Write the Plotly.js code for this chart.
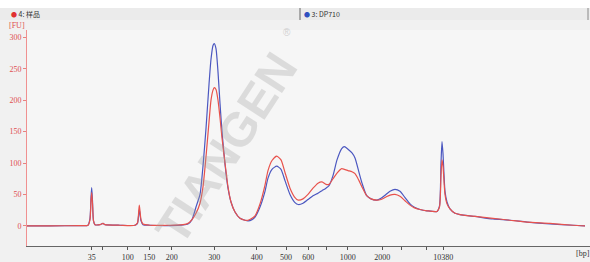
<!DOCTYPE html>
<html><head><meta charset="utf-8">
<script src="https://cdn.plot.ly/plotly-3.0.1.min.js"></script>
<style>html,body{margin:0;padding:0;background:#fff}#c{width:590px;height:262px}</style>
</head><body><div id="c"></div>
<script>
// migration time (arbitrary units) and fluorescence [FU]
const time = [2.7,5.0,8.0,8.8,9.0,9.1,9.17,9.25,9.35,9.5,10.0,10.3,10.5,12.0,13.5,13.75,13.93,14.1,14.3,15.0,17.0,18.3,18.8,19.2,19.6,20.0,20.3,20.6,20.9,21.1,21.3,21.43,21.6,21.8,22.0,22.2,22.5,22.8,23.1,23.5,24.0,24.5,24.8,25.2,25.5,26.0,26.5,26.8,27.2,27.67,28.1,28.5,29.0,29.5,29.83,30.3,30.8,31.3,31.8,32.2,32.6,32.9,33.3,33.7,34.17,34.43,34.8,35.2,35.5,35.9,36.2,36.67,37.1,37.67,38.1,38.6,39.0,39.5,40.0,40.5,41.0,41.4,42.0,42.7,43.7,43.95,44.1,44.2,44.3,44.5,44.7,45.0,45.5,46.0,47.5,49.3,51.0,52.7,55.0,57.3,58.5];
const sample = [0,0,0.5,1,10,40,53,35,8,2,2,4,2,1,1,5,33,10,3,1,1,2,4,10,20,36,62,110,165,200,216,220,217,200,172,140,100,62,38,22,12,9,9,12,16,35,65,88,104,111,105,85,60,45,41,43,50,60,68,70,66,66,75,84,91,90,88,86,83,72,62,48,43,41,42,46,49,50,47,40,33,29,26,24,23,30,80,105,95,50,35,27,20,18,15,12,9,6,4,1,0];
const dp710 = [0,0,0.5,1,12,45,61,40,8,2,2,4,2,1,1,4,26,8,2,1,0.5,1.5,3,10,30,50,95,155,225,265,287,290,282,245,195,150,98,60,38,22,12,9,8,10,14,30,55,76,90,95,90,72,50,37,34,36,42,48,52,56,60,64,80,105,123,126,122,116,108,85,68,48,43,41,44,50,55,58,55,45,35,30,26,24,23,32,100,134,115,55,38,27,20,18,15,11,9,6,3,1,0];
const tickPos = [9.17,10.23,12.77,14.93,17.17,21.43,25.67,28.6,30.83,32.67,34.77,38.23,40.1,42.67,44.33];
const tickText = ['35','','100','150','200','300','400','500','600','','1000','2000','','','10380'];
const yTicks = [0,50,100,150,200,250,300];
const legendNames = ['4: 样品','3: DP710'];

const serif = 'Liberation Serif';
const traces = [
  {x: time, y: dp710, type:'scatter', mode:'lines', line:{color:'#4b57c0', width:1.2, shape:'spline', smoothing:0.6}, hoverinfo:'skip'},
  {x: time, y: sample, type:'scatter', mode:'lines', line:{color:'#e8524c', width:1.2, shape:'spline', smoothing:0.6}, hoverinfo:'skip'}
];
const px2x = p => (p-27)/563;
const py2y = p => (246-p)/216;
const layout = {
  width:590, height:262,
  margin:{l:27, r:0, t:30, b:16},
  paper_bgcolor:'#f1f1f1', plot_bgcolor:'#f6f6f6',
  showlegend:false,
  font:{family:serif, size:8, color:'#333'},
  xaxis:{range:[2.7,59.0], tickvals:tickPos, ticktext:tickText, ticks:'outside', ticklen:3, tickcolor:'#555',
    showline:true, linecolor:'#666', linewidth:1, showgrid:false, zeroline:false, fixedrange:true,
    tickfont:{family:serif, size:8, color:'#333'}},
  yaxis:{range:[-32,311.6], tickvals:yTicks, ticks:'outside', ticklen:3, tickcolor:'#e88080',
    showline:true, linecolor:'#f09090', linewidth:1, showgrid:false, zeroline:false, fixedrange:true,
    tickfont:{family:serif, size:8, color:'#e05050'}},
  shapes:[
    {type:'rect', xref:'paper', yref:'paper', x0:px2x(0), x1:px2x(590), y0:py2y(20), y1:py2y(8), fillcolor:'#ebebeb', line:{width:0}, layer:'below'},
    {type:'rect', xref:'paper', yref:'paper', x0:px2x(0), x1:px2x(590), y0:py2y(8), y1:py2y(0), fillcolor:'#ffffff', line:{width:0}, layer:'below'},
    {type:'line', xref:'paper', yref:'paper', x0:px2x(300), x1:px2x(300), y0:py2y(20), y1:py2y(8), line:{color:'#666', width:1}},
    {type:'line', xref:'paper', yref:'paper', x0:px2x(588), x1:px2x(588), y0:py2y(20), y1:py2y(8), line:{color:'#888', width:1}}
  ],
  annotations:[
    {xref:'paper', yref:'paper', x:px2x(9), y:py2y(14), xanchor:'left', yanchor:'middle', showarrow:false,
      text:'<span style="color:#e03030;font-size:6px">●</span> '+legendNames[0], font:{family:'Noto Sans CJK SC', size:7, color:'#333'}},
    {xref:'paper', yref:'paper', x:px2x(302), y:py2y(14), xanchor:'left', yanchor:'middle', showarrow:false,
      text:'<span style="color:#3050c0;font-size:6px">●</span> '+legendNames[1], font:{family:'Noto Sans CJK SC', size:7, color:'#333'}},
    {xref:'paper', yref:'paper', x:px2x(17), y:py2y(25), xanchor:'center', yanchor:'middle', showarrow:false,
      text:'[FU]', font:{family:serif, size:8, color:'#e05050'}},
    {xref:'paper', yref:'paper', x:px2x(583), y:py2y(253), xanchor:'center', yanchor:'middle', showarrow:false,
      text:'[bp]', font:{family:serif, size:8, color:'#333'}},
    {xref:'paper', yref:'paper', x:px2x(226), y:py2y(148), xanchor:'center', yanchor:'middle', showarrow:false,
      text:'<b>TIANGEN</b>', textangle:-57, opacity:0.3, font:{family:'Liberation Sans', size:48, color:'#a0a0a0'}},
    {xref:'paper', yref:'paper', x:px2x(287), y:py2y(32), xanchor:'center', yanchor:'middle', showarrow:false,
      text:'®', opacity:0.4, font:{family:'Liberation Sans', size:10, color:'#999'}}
  ]
};
Plotly.newPlot('c', traces, layout, {staticPlot:true, displayModeBar:false});
</script>
</body></html>
